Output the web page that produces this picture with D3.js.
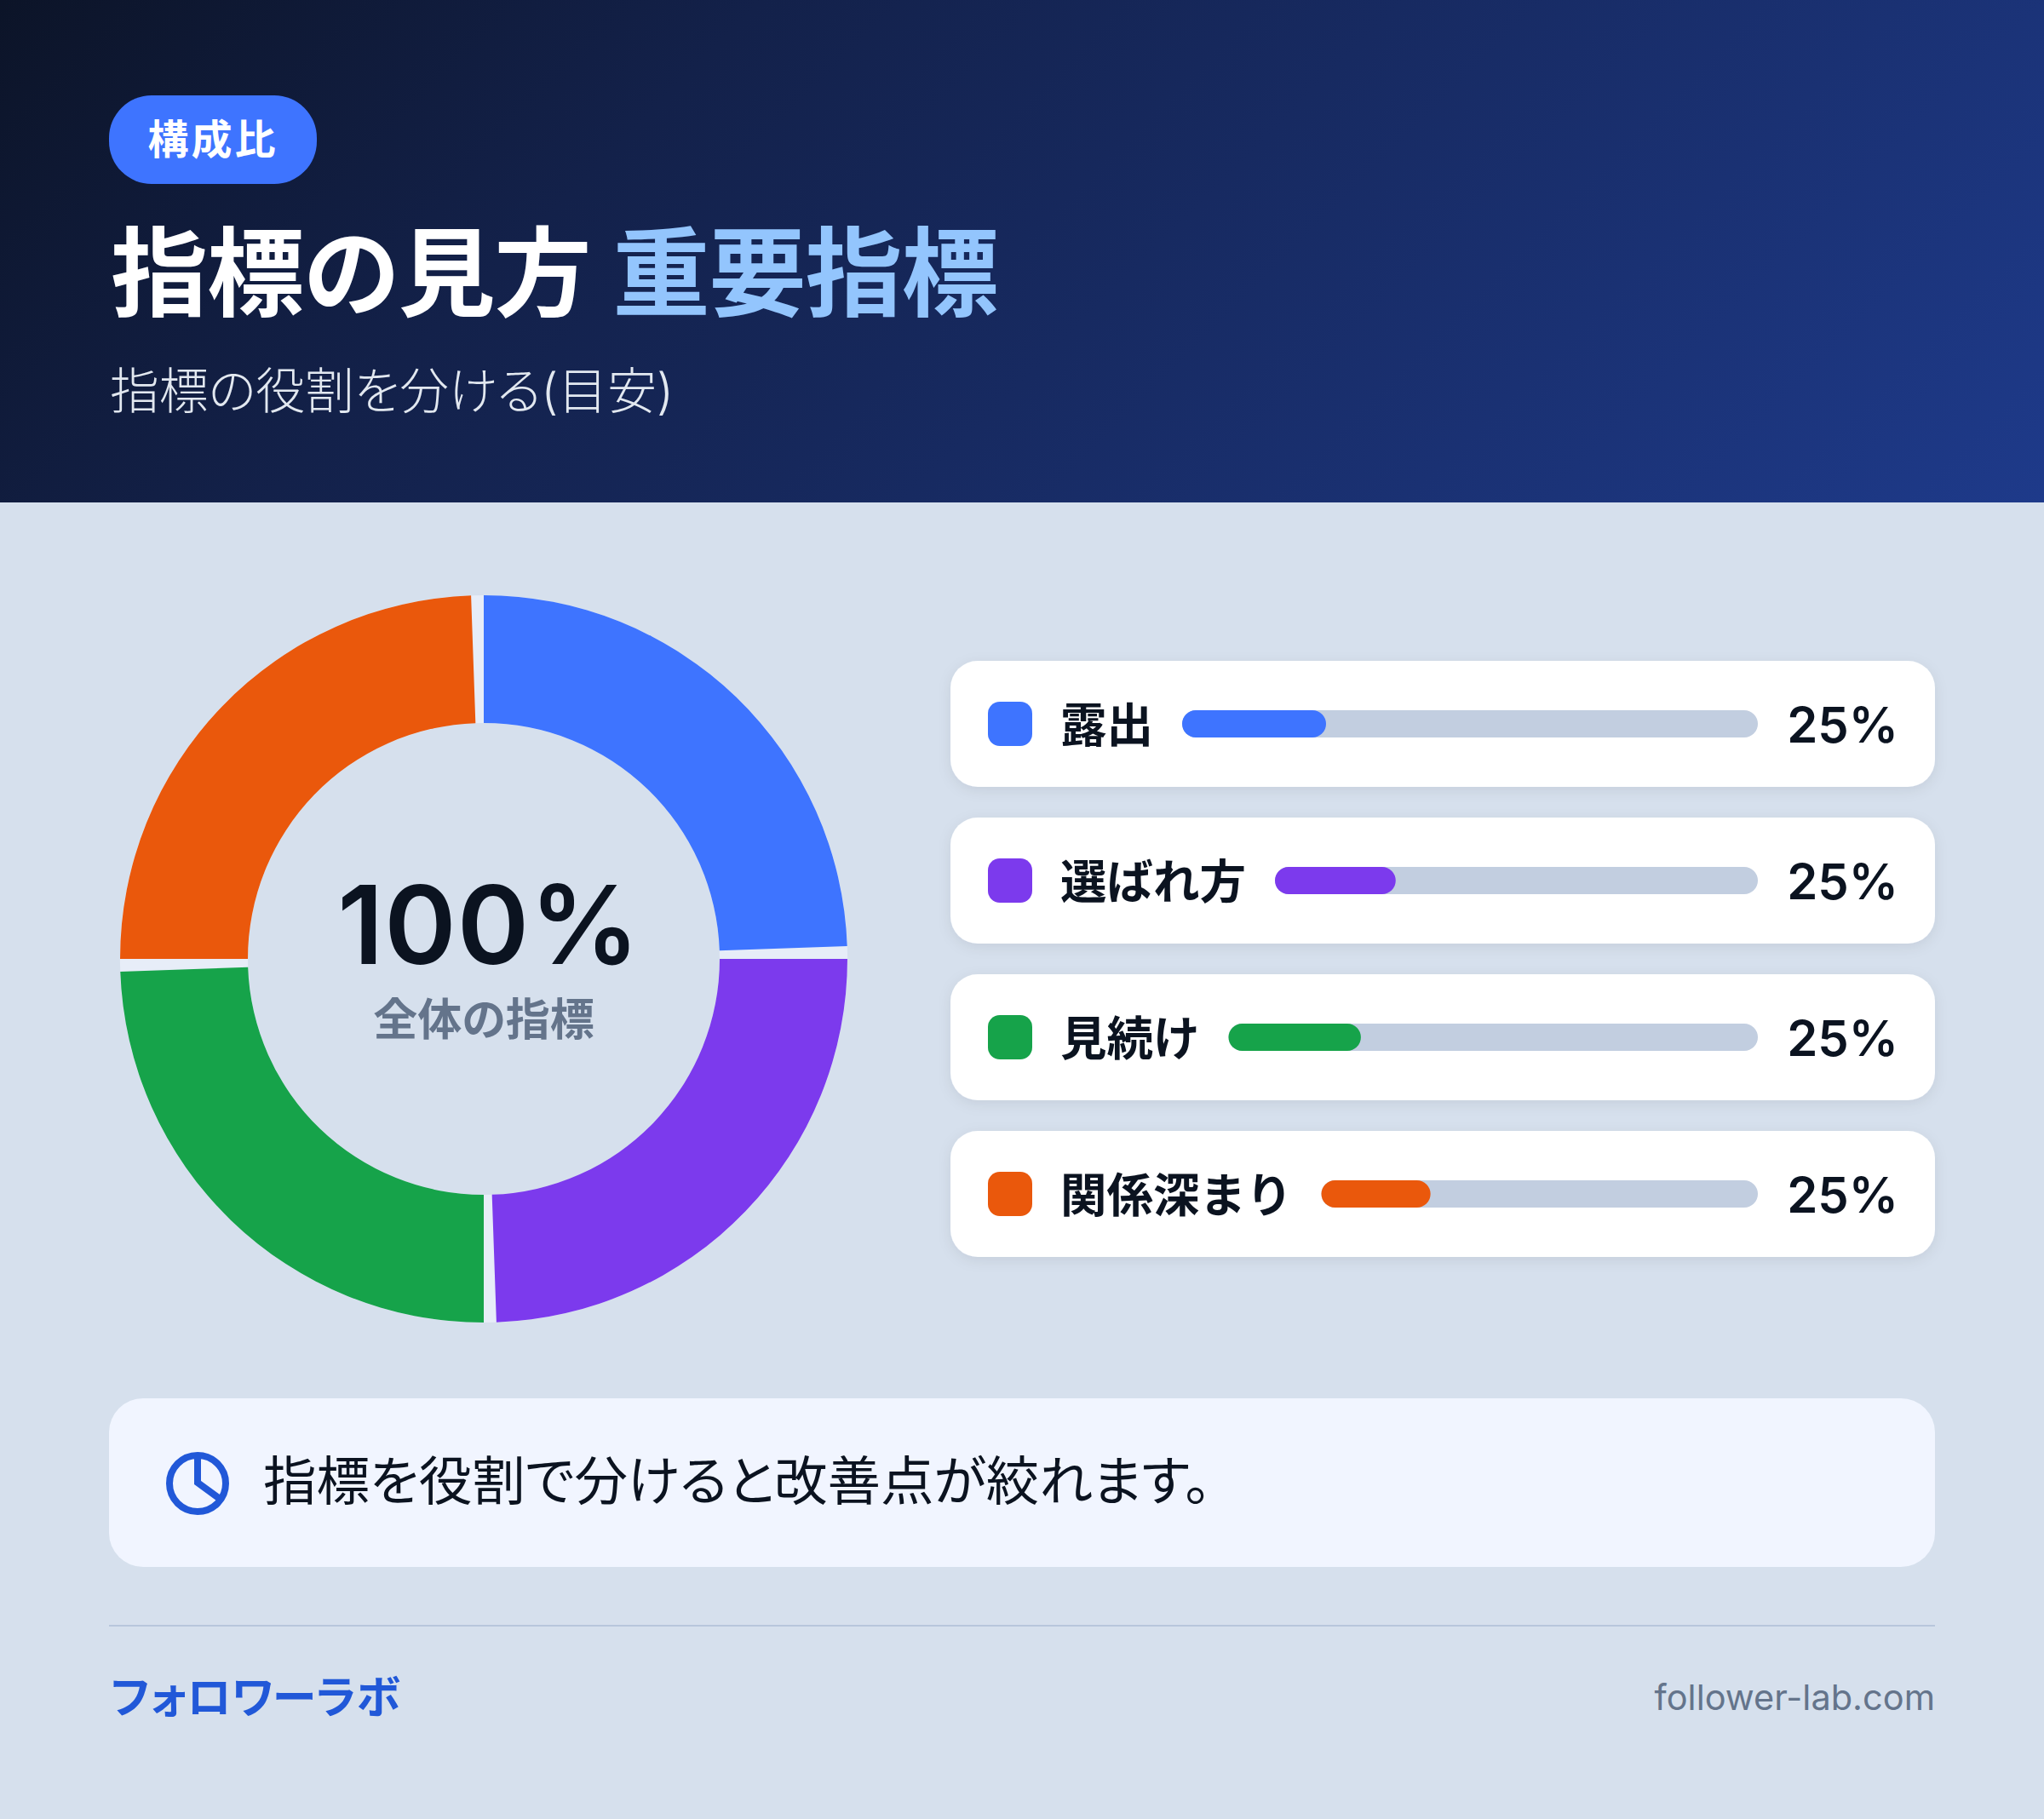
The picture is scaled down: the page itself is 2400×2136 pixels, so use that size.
<!DOCTYPE html>
<html>
<head>
<meta charset="utf-8">
<style>
  html, body { margin: 0; padding: 0; background: #d6e0ed; }
  svg { display: block; }
  text { font-family: Inter, "Noto Sans CJK JP", sans-serif; font-feature-settings: "palt" 1; }
  text.label { font-feature-settings: normal; }
</style>
</head>
<body>
  <svg id="svg" width="2400" height="2136" viewBox="0 0 2400 2136"></svg>

  <script src="https://cdn.jsdelivr.net/npm/d3@7/dist/d3.min.js"></script>
  <script type="text/javascript">
  const categories = ["露出", "選ばれ方", "見続け", "関係深まり"];
  const values = [25, 25, 25, 25];
  const colors = ["#3e74ff", "#7c3aed", "#16a34a", "#ea580c"];
  const ink = "#0b1320";

  const svg = d3.select("#svg");
  const defs = svg.append("defs");

  const grad = defs.append("linearGradient")
    .attr("id", "head")
    .attr("gradientUnits", "userSpaceOnUse")
    .attr("x1", 452).attr("y1", -452)
    .attr("x2", 1947).attr("y2", 1042);
  grad.append("stop").attr("offset", "0").attr("stop-color", "#0c1428");
  grad.append("stop").attr("offset", "0.3").attr("stop-color", "#13214a");
  grad.append("stop").attr("offset", "1").attr("stop-color", "#1e3a8a");

  const shadow = defs.append("filter")
    .attr("id", "shadow")
    .attr("x", "-5%").attr("y", "-20%")
    .attr("width", "110%").attr("height", "150%");
  shadow.append("feDropShadow")
    .attr("dx", 0).attr("dy", 4)
    .attr("stdDeviation", 8)
    .attr("flood-color", "#0f172a")
    .attr("flood-opacity", 0.08);

  // background + header
  svg.append("rect").attr("width", 2400).attr("height", 2136).attr("fill", "#d6e0ed");
  svg.append("rect").attr("width", 2400).attr("height", 590).attr("fill", "url(#head)");

  svg.append("rect")
    .attr("x", 128).attr("y", 112)
    .attr("width", 244).attr("height", 104)
    .attr("rx", 50)
    .attr("fill", "#3e74ff");
  svg.append("text")
    .attr("x", 250).attr("y", 181)
    .attr("text-anchor", "middle")
    .attr("font-size", 48).attr("font-weight", 700)
    .attr("letter-spacing", 3)
    .attr("fill", "#ffffff")
    .text("構成比");

  const title = svg.append("text")
    .attr("x", 130).attr("y", 362)
    .attr("font-size", 114).attr("font-weight", 700)
    .attr("letter-spacing", -1);
  title.append("tspan").attr("fill", "#ffffff").text("指標の見方 ");
  title.append("tspan").attr("fill", "#93c5fd").text("重要指標");

  svg.append("text")
    .attr("x", 129).attr("y", 480)
    .attr("font-size", 57.8).attr("font-weight", 300)
    .attr("fill", "#e2e8f0")
    .text("指標の役割を分ける(目安)");

  // donut
  const cx = 568, cy = 1126, R = 427, r0 = 277;
  const gap = 2 * Math.PI / 180;
  const pie = d3.pie().sort(null)(values);
  const arc = d3.arc().innerRadius(r0).outerRadius(R);
  const donut = svg.append("g").attr("transform", `translate(${cx},${cy})`);

  donut.append("path")
    .attr("d", arc({startAngle: 0, endAngle: 2 * Math.PI}))
    .attr("fill", "#e7edf8");
  donut.selectAll("path.slice").data(pie).enter().append("path")
    .attr("class", "slice")
    .attr("d", d => arc({startAngle: d.startAngle, endAngle: d.endAngle - gap}))
    .attr("fill", (d, i) => colors[i]);

  svg.append("text")
    .attr("x", 574).attr("y", 1132)
    .attr("text-anchor", "middle")
    .attr("font-size", 128).attr("font-weight", 600)
    .attr("letter-spacing", 1)
    .attr("fill", ink)
    .text("100%");
  svg.append("text")
    .attr("x", 568).attr("y", 1216)
    .attr("text-anchor", "middle")
    .attr("font-size", 52).attr("font-weight", 700)
    .attr("fill", "#64748b")
    .text("全体の指標");

  // legend cards
  const cardY = d3.scaleLinear().domain([0, 3]).range([776, 1328]);
  const pct = d3.scaleLinear().domain([0, 100]);

  const rows = svg.selectAll("g.row").data(categories).enter().append("g")
    .attr("class", "row")
    .attr("transform", (d, i) => `translate(0,${cardY(i)})`);

  rows.append("rect")
    .attr("x", 1116).attr("width", 1156).attr("height", 148)
    .attr("rx", 32)
    .attr("fill", "#ffffff")
    .attr("filter", "url(#shadow)");
  rows.append("rect")
    .attr("x", 1160).attr("y", 48)
    .attr("width", 52).attr("height", 52)
    .attr("rx", 14)
    .attr("fill", (d, i) => colors[i]);

  rows.append("text")
    .attr("class", "label")
    .attr("x", 1245).attr("y", 95)
    .attr("font-size", 54.5).attr("font-weight", 700)
    .attr("fill", ink)
    .text(d => d);

  rows.append("text")
    .attr("x", 2229).attr("y", 96)
    .attr("text-anchor", "end")
    .attr("font-size", 58).attr("font-weight", 600)
    .attr("fill", ink)
    .text((d, i) => values[i] + "%");

  const trackEnd = 2064;
  rows.each(function(d, i) {
    const row = d3.select(this);
    const x0 = 1245 + row.select("text.label").node().getComputedTextLength() + 34;
    const w = pct.range([0, trackEnd - x0]);
    row.append("rect")
      .attr("x", x0).attr("y", 58)
      .attr("width", trackEnd - x0).attr("height", 32)
      .attr("rx", 16)
      .attr("fill", "#c2cee0");
    row.append("rect")
      .attr("x", x0).attr("y", 58)
      .attr("width", w(values[i])).attr("height", 32)
      .attr("rx", 16)
      .attr("fill", colors[i]);
  });

  // note
  svg.append("rect")
    .attr("x", 128).attr("y", 1642)
    .attr("width", 2144).attr("height", 198)
    .attr("rx", 40)
    .attr("fill", "#f1f5ff");
  svg.append("circle")
    .attr("cx", 232).attr("cy", 1742).attr("r", 33)
    .attr("fill", "none")
    .attr("stroke", "#2158d8").attr("stroke-width", 8);
  svg.append("path")
    .attr("d", d3.line()([[232, 1708], [232, 1741], [258, 1760]]))
    .attr("fill", "none")
    .attr("stroke", "#2158d8").attr("stroke-width", 8);
  svg.append("text")
    .attr("x", 309).attr("y", 1762)
    .attr("font-size", 62.5).attr("font-weight", 400)
    .attr("fill", ink)
    .text("指標を役割で分けると改善点が絞れます。");

  // footer
  svg.append("rect")
    .attr("x", 128).attr("y", 1908)
    .attr("width", 2144).attr("height", 2)
    .attr("fill", "#b8c6dc");
  svg.append("text")
    .attr("x", 130).attr("y", 2012)
    .attr("font-size", 52).attr("font-weight", 700)
    .attr("fill", "#2158d8")
    .text("フォロワーラボ");
  svg.append("text")
    .attr("x", 2272).attr("y", 2008)
    .attr("text-anchor", "end")
    .attr("font-size", 41.5).attr("font-weight", 400)
    .attr("fill", "#64748b")
    .text("follower-lab.com");
  </script>
</body>
</html>
